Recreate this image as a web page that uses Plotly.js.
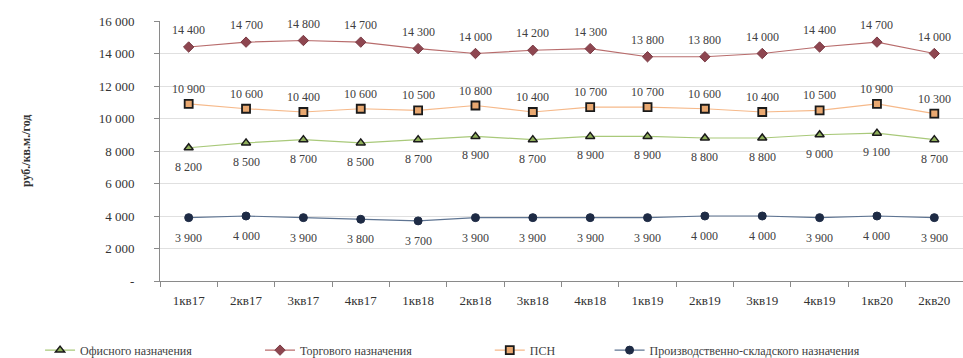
<!DOCTYPE html>
<html><head><meta charset="utf-8">
<script src="https://cdn.plot.ly/plotly-3.0.1.min.js"></script>
<style>html,body{margin:0;padding:0;background:#fff}#c{width:963px;height:358px}</style>
</head><body><div id="c"></div>
<script>
const categories = ["1кв17","2кв17","3кв17","4кв17","1кв18","2кв18","3кв18","4кв18","1кв19","2кв19","3кв19","4кв19","1кв20","2кв20"];
const officeVals = [8200,8500,8700,8500,8700,8900,8700,8900,8900,8800,8800,9000,9100,8700];
const tradeVals = [14400,14700,14800,14700,14300,14000,14200,14300,13800,13800,14000,14400,14700,14000];
const psnVals = [10900,10600,10400,10600,10500,10800,10400,10700,10700,10600,10400,10500,10900,10300];
const prodVals = [3900,4000,3900,3800,3700,3900,3900,3900,3900,4000,4000,3900,4000,3900];
const seriesNames = ["Офисного назначения","Торгового назначения","ПСН","Производственно-складского назначения"];
const yTickVals = [0,2000,4000,6000,8000,10000,12000,14000,16000];
const yTickText = ["-","2 000","4 000","6 000","8 000","10 000","12 000","14 000","16 000"];
const yTitle = "руб./кв.м./год";

const fmt = v => String(v).replace(/\B(?=(\d{3})+(?!\d))/g, " ");
const FONT = "Liberation Serif";

const legendX = [0.0416, 0.27, 0.5086, 0.633];
const traces = [
  {name: seriesNames[0], x: categories, y: officeVals, mode: "lines+markers", legend: "legend",
   line: {color: "#A9C97A", width: 1.2},
   marker: {symbol: "triangle-up", size: 8, color: "#8FAF5A", line: {color: "#1a1a1a", width: 1.5}}},
  {name: seriesNames[1], x: categories, y: tradeVals, mode: "lines+markers", legend: "legend2",
   line: {color: "#B86C6C", width: 1.2},
   marker: {symbol: "diamond", size: 8, color: "#8E4650", line: {color: "#7a3a44", width: 1}}},
  {name: seriesNames[2], x: categories, y: psnVals, mode: "lines+markers", legend: "legend3",
   line: {color: "#F6B98A", width: 1.2},
   marker: {symbol: "square", size: 8, color: "#E9A870", line: {color: "#1a1a1a", width: 1.8}}},
  {name: seriesNames[3], x: categories, y: prodVals, mode: "lines+markers", legend: "legend4",
   line: {color: "#5E7492", width: 1.2},
   marker: {symbol: "circle", size: 8, color: "#1E2B45", line: {color: "#1E2B45", width: 1}}}
];

const annotations = [];
const addLabels = (vals, shift) => vals.forEach((v, i) => annotations.push({
  x: categories[i], y: v, xref: "x", yref: "y", text: fmt(v), showarrow: false,
  yshift: shift, font: {family: FONT, size: 12, color: "#404040"}
}));
addLabels(tradeVals, 17);
addLabels(psnVals, 15);
addLabels(officeVals, -19);
addLabels(prodVals, -20);
annotations.push({xref: "paper", yref: "paper", x: -0.178, y: 0.5, text: "<b>" + yTitle + "</b>",
  textangle: -90, showarrow: false, font: {family: FONT, size: 12, color: "#333"}});

const mkLegend = x => ({orientation: "h", xref: "container", yref: "container", x: x, y: 0.022, yanchor: "middle",
  font: {family: FONT, size: 12, color: "#404040"}, bgcolor: "rgba(0,0,0,0)", itemwidth: 30});

const layout = {
  width: 963, height: 358,
  margin: {l: 160, r: 0, t: 21, b: 77},
  paper_bgcolor: "#fff", plot_bgcolor: "#fff",
  font: {family: FONT, size: 12, color: "#404040"},
  showlegend: true,
  legend: mkLegend(legendX[0]), legend2: mkLegend(legendX[1]), legend3: mkLegend(legendX[2]), legend4: mkLegend(legendX[3]),
  xaxis: {type: "category", range: [-0.5, 13.5], showgrid: false, showline: true, linecolor: "#8a8a8a",
    ticks: "outside", ticklen: 5, tickcolor: "#8a8a8a", tickson: "boundaries",
    ticklabelstandoff: 7, tickfont: {family: FONT, size: 13, color: "#333"}, fixedrange: true},
  yaxis: {range: [0, 16000], tickvals: yTickVals, ticktext: yTickText, showgrid: true, gridcolor: "#e0e0e0",
    showline: true, linecolor: "#8a8a8a", ticks: "outside", ticklen: 5, tickcolor: "#8a8a8a",
    zeroline: false, ticklabelstandoff: 17, tickfont: {family: FONT, size: 13, color: "#333"}, fixedrange: true},
  annotations: annotations
};

Plotly.newPlot("c", traces, layout, {displayModeBar: false, staticPlot: true});
</script>
</body></html>
